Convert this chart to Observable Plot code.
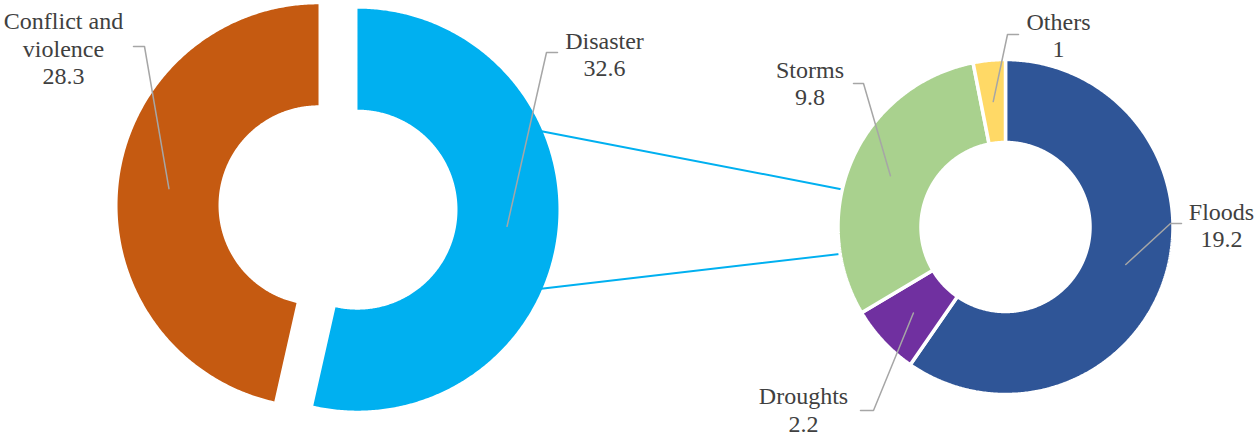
<!DOCTYPE html>
<html>
<head>
<meta charset="utf-8">
<script src="https://cdn.jsdelivr.net/npm/d3@7"></script>
<script src="https://cdn.jsdelivr.net/npm/@observablehq/plot@0.6"></script>
</head>
<body style="margin:0">
<div id="chart"></div>
<script>
// Displacement by cause, with the disaster share broken down by hazard type.
const causes = ["Disaster", "Conflict and\nviolence"];
const causeValues = [32.6, 28.3];
const causeColors = ["#00B0F0", "#C55A11"];

const hazards = ["Floods", "Droughts", "Storms", "Others"];
const hazardValues = [19.2, 2.2, 9.8, 1];
const hazardColors = ["#2F5597", "#7030A0", "#A9D18E", "#FFD966"];

const W = 1254, H = 436;
const FONT = 24, LINE_PX = 27.6;
const deg = Math.PI / 180;

// Ring geometry (pixel space)
const leftRing = {cx: 337.5, cy: 207, outer: 201, inner: 100, explode: 19.6};
const rightRing = {cx: 1005, cy: 226.5, outer: 167.5, inner: 84.5, explode: 0};

// Label placement: centre x, first baseline, and the leader's start + elbow
const labelLayout = {
  "Disaster": {x: 604, base: 48, start: [557, 52], elbow: [546, 52]},
  "Conflict and\nviolence": {x: 63, base: 28.5, start: [133, 46], elbow: [144, 46]},
  "Floods": {x: 1221, base: 219, start: [1181, 223], elbow: [1170, 223]},
  "Droughts": {x: 803, base: 403.5, start: [860, 410], elbow: [873, 410]},
  "Storms": {x: 809.5, base: 77, start: [853, 83], elbow: [863, 83]},
  "Others": {x: 1058, base: 29, start: [1018, 34], elbow: [1007, 34]}
};

function slices(names, values, g) {
  return d3.pie().sort(null)(values).map((a, i) => {
    const mid = (a.startAngle + a.endAngle) / 2;
    return {
      name: names[i], value: values[i], g,
      a0: a.startAngle, a1: a.endAngle, mid,
      ox: g.cx + g.explode * Math.sin(mid),
      oy: g.cy - g.explode * Math.cos(mid)
    };
  });
}

function outline(s) {
  const {g} = s, pts = [];
  const n = Math.max(2, Math.ceil((s.a1 - s.a0) / (0.5 * deg)));
  for (let k = 0; k <= n; ++k) {
    const t = s.a0 + (s.a1 - s.a0) * k / n;
    pts.push({name: s.name, x: s.ox + g.outer * Math.sin(t), y: s.oy - g.outer * Math.cos(t)});
  }
  for (let k = n; k >= 0; --k) {
    const t = s.a0 + (s.a1 - s.a0) * k / n;
    pts.push({name: s.name, x: s.ox + g.inner * Math.sin(t), y: s.oy - g.inner * Math.cos(t)});
  }
  return pts;
}

const leftSlices = slices(causes, causeValues, leftRing);
const rightSlices = slices(hazards, hazardValues, rightRing);
const allSlices = leftSlices.concat(rightSlices);

const leftPoly = leftSlices.flatMap(outline);
const rightPoly = rightSlices.flatMap(outline);

// Connector lines from the disaster slice to the breakdown ring
const disaster = leftSlices[0];
const onArc = (cx, cy, r, a) => [cx + r * Math.sin(a * deg), cy - r * Math.cos(a * deg)];
const connectorPairs = [
  [onArc(disaster.ox, disaster.oy, leftRing.outer - 1, 66.9), onArc(rightRing.cx, rightRing.cy, rightRing.outer - 1.5, 283)],
  [onArc(disaster.ox, disaster.oy, leftRing.outer - 1, 113.3), onArc(rightRing.cx, rightRing.cy, rightRing.outer - 1.5, 260.7)]
];
const connectors = connectorPairs.flatMap((p, i) => p.map(([x, y]) => ({id: i, x, y})));

// Leader lines from each label to the middle of its slice
const leaders = allSlices.flatMap(s => {
  const L = labelLayout[s.name];
  const rm = (s.g.outer + s.g.inner) / 2;
  return [
    {name: s.name, x: L.start[0], y: L.start[1]},
    {name: s.name, x: L.elbow[0], y: L.elbow[1]},
    {name: s.name, x: s.ox + rm * Math.sin(s.mid), y: s.oy - rm * Math.cos(s.mid)}
  ];
});

// One text row per label line (category lines followed by the value)
const labelLines = allSlices.flatMap(s => {
  const L = labelLayout[s.name];
  const lines = s.name.split("\n").concat(String(s.value));
  return lines.map((t, k) => ({text: t, x: L.x, y: L.base + k * LINE_PX}));
});

const chart = Plot.plot({
  width: W,
  height: H,
  margin: 0,
  x: {domain: [0, W], range: [0, W], axis: null},
  y: {domain: [0, H], range: [0, H], axis: null},
  color: {domain: causes.concat(hazards), range: causeColors.concat(hazardColors)},
  marks: [
    Plot.line(connectors, {x: "x", y: "y", z: "id", stroke: "#00B0F0", strokeWidth: 2}),
    Plot.line(leftPoly, {x: "x", y: "y", z: "name", fill: "name", stroke: "none", curve: "linear-closed"}),
    Plot.line(rightPoly, {x: "x", y: "y", z: "name", fill: "name", stroke: "#fff", strokeWidth: 3.5, strokeLinejoin: "miter", curve: "linear-closed"}),
    Plot.line(leaders, {x: "x", y: "y", z: "name", stroke: "#A6A6A6", strokeWidth: 1.5}),
    Plot.text(labelLines, {
      x: "x", y: "y",
      text: "text",
      textAnchor: "middle",
      lineAnchor: "bottom",
      fontSize: FONT,
      fontFamily: "serif",
      fill: "#404040"
    })
  ]
});

// Serif face for every label
d3.select(chart).attr("font-family", "serif")
  .selectAll("text").style("font-family", "'Liberation Serif', serif");

document.getElementById("chart").appendChild(chart);
</script>
</body>
</html>
